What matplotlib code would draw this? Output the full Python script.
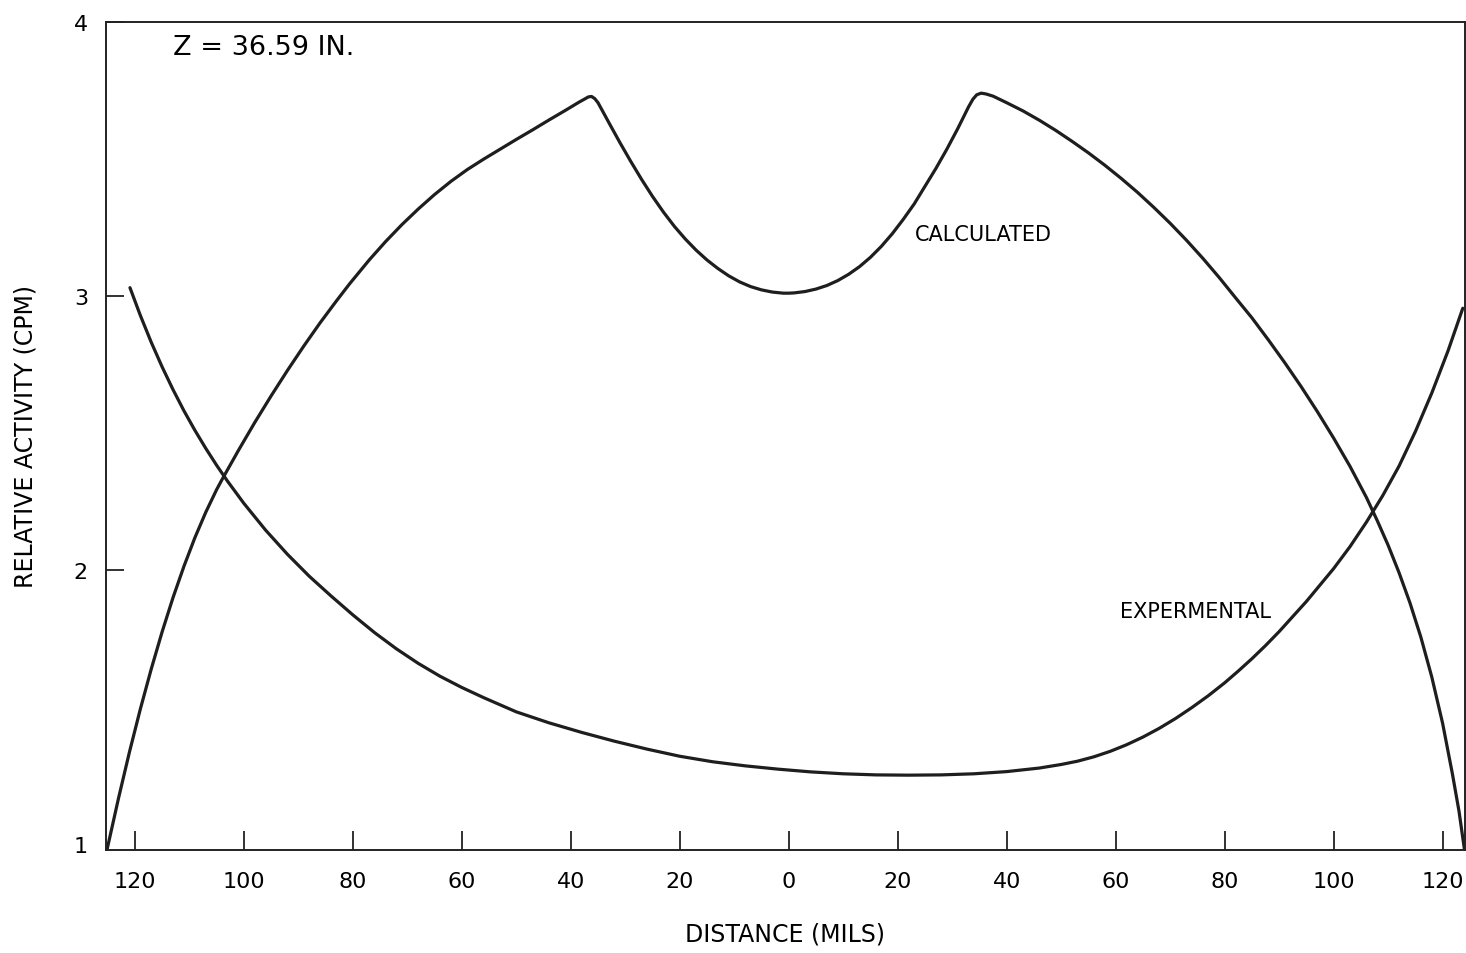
import matplotlib
matplotlib.use("Agg")
import matplotlib.pyplot as plt

# ---- data (distance in mils, signed; relative activity in CPM) ----
calc_x = [-125.1, -123, -121, -119, -117, -115, -113, -111, -109, -107,
          -105, -104, -101, -98, -95, -92, -89, -86, -83, -80.6,
          -77, -74, -71, -68, -65, -62, -59, -56, -53, -50,
          -47, -44, -41, -38.5, -37.5, -36.8, -36.2, -35.6, -35.0, -33,
          -31, -29, -27, -25, -23, -21, -19, -17, -15, -13,
          -11, -9, -7, -5, -3, -1, 0, 1, 3, 5,
          7, 9, 11, 13, 15, 17, 19, 21, 23, 25,
          27, 29, 31, 33, 33.8, 34.5, 35.3, 36.2, 37.5, 40,
          43, 46, 49, 52, 55, 58, 61, 64, 67, 70,
          73, 76, 79, 82, 85, 88, 91, 94, 97, 100,
          103, 106, 108, 110, 112, 114, 116, 118, 120, 121.8,
          123, 124.0]
calc_y = [0.98, 1.167, 1.335, 1.492, 1.638, 1.774, 1.899, 2.013, 2.117, 2.210,
          2.293, 2.330, 2.436, 2.538, 2.635, 2.728, 2.817, 2.902, 2.982, 3.044,
          3.131, 3.198, 3.260, 3.317, 3.370, 3.418, 3.461, 3.499, 3.535, 3.571,
          3.606, 3.642, 3.677, 3.707, 3.718, 3.726, 3.728, 3.720, 3.705, 3.632,
          3.560, 3.491, 3.425, 3.363, 3.306, 3.254, 3.208, 3.167, 3.131, 3.100,
          3.073, 3.051, 3.034, 3.022, 3.014, 3.010, 3.010, 3.011, 3.016, 3.025,
          3.038, 3.056, 3.079, 3.107, 3.141, 3.181, 3.227, 3.279, 3.335, 3.40,
          3.465, 3.535, 3.61, 3.69, 3.718, 3.734, 3.740, 3.737, 3.729, 3.705,
          3.675, 3.641, 3.604, 3.564, 3.522, 3.477, 3.429, 3.378, 3.323, 3.265,
          3.203, 3.137, 3.067, 2.993, 2.92, 2.84, 2.757, 2.67, 2.578, 2.481,
          2.378, 2.265, 2.18, 2.09, 1.99, 1.88, 1.755, 1.61, 1.44, 1.255,
          1.12, 0.98]

exp_x = [-120.9, -119, -117, -115, -113, -111, -109, -107, -105, -103,
         -100, -96, -92, -88, -84, -80, -76, -72, -68, -64,
         -60, -56, -50, -44, -38, -32, -26, -20, -14, -8,
         -2, 4, 10, 16, 22, 28, 34, 40, 46, 50,
         53, 56, 59, 62, 65, 68, 71, 74, 77, 80,
         82.5, 85, 87.5, 90, 95, 100, 103, 106, 109, 112,
         115, 118, 121, 123.7]
exp_y = [3.03, 2.929, 2.831, 2.741, 2.658, 2.581, 2.510, 2.444, 2.382, 2.324,
         2.243, 2.145, 2.057, 1.977, 1.905, 1.836, 1.771, 1.712, 1.659, 1.612,
         1.571, 1.534, 1.482, 1.442, 1.407, 1.375, 1.346, 1.32, 1.30, 1.285,
         1.273, 1.263, 1.256, 1.252, 1.251, 1.252, 1.256, 1.264, 1.277, 1.29,
         1.302, 1.318, 1.338, 1.362, 1.390, 1.422, 1.458, 1.498, 1.541, 1.588,
         1.631, 1.676, 1.724, 1.775, 1.885, 2.005, 2.085, 2.174, 2.271, 2.379,
         2.505, 2.645, 2.80, 2.955]

x_ticks = [-120, -100, -80, -60, -40, -20, 0, 20, 40, 60, 80, 100, 120]
x_tick_labels = ["120", "100", "80", "60", "40", "20", "0", "20", "40", "60", "80", "100", "120"]
y_ticks = [1, 2, 3, 4]
y_tick_labels = ["1", "2", "3", "4"]

title_note = "Z = 36.59 IN."
calc_label = "CALCULATED"
exp_label = "EXPERMENTAL"

# ---- figure ----
plt.rcParams['font.family'] = ['DejaVu Sans']
fig = plt.figure(figsize=(14.66, 9.54), dpi=100)
ax = fig.add_axes([0.0723, 0.108, 0.9270, 0.868])

line_color = "#1e1e1e"
ax.plot(calc_x, calc_y, color=line_color, lw=2.3, solid_joinstyle='round',
        solid_capstyle='round')
ax.plot(exp_x, exp_y, color=line_color, lw=2.3, solid_joinstyle='round',
        solid_capstyle='round')

ax.set_xlim(-125.3, 124.1)
ax.set_ylim(0.978, 4.0)

ax.set_xticks(x_ticks)
ax.set_xticklabels(x_tick_labels)
ax.set_yticks(y_ticks)
ax.set_yticklabels(y_tick_labels)

ax.tick_params(axis='x', direction='in', length=14, width=1.3, pad=15,
               labelsize=16, color='#222222')
ax.tick_params(axis='y', direction='in', length=13, width=1.3, pad=13,
               labelsize=16, color='#222222')
# the tick at 1 coincides with the bottom frame in the original
ax.yaxis.get_major_ticks()[0].tick1line.set_visible(False)

for s in ax.spines.values():
    s.set_linewidth(1.4)
    s.set_color('#222222')

ax.set_xlabel("DISTANCE (MILS)", fontsize=17, labelpad=22)
ax.set_ylabel("RELATIVE ACTIVITY (CPM)", fontsize=17, labelpad=26)

ax.text(-113.0, 3.91, title_note, fontsize=19.5, ha='left', va='center')
ax.text(23.1, 3.226, calc_label, fontsize=15, ha='left', va='center')
ax.text(60.7, 1.85, exp_label, fontsize=15, ha='left', va='center')

fig.savefig("out.png", dpi=100)
